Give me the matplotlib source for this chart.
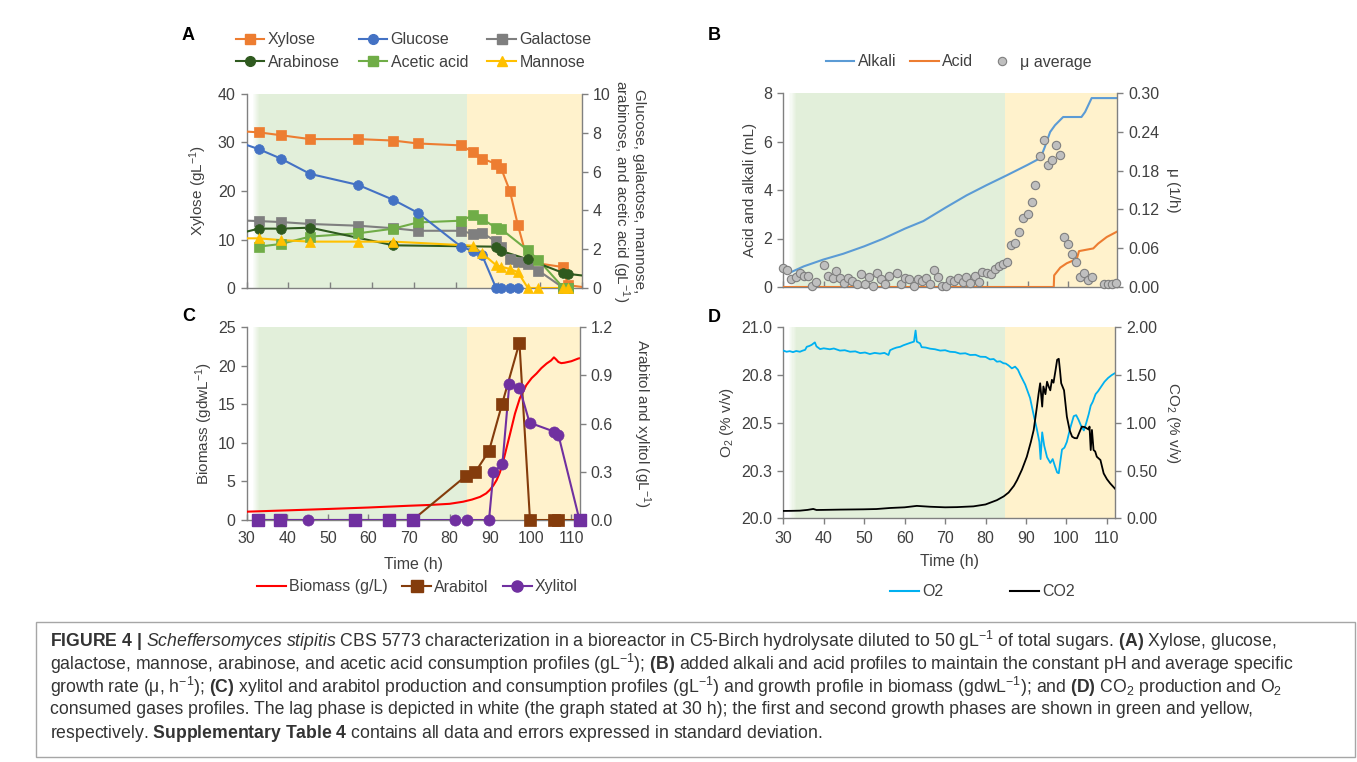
import numpy as np
import matplotlib
matplotlib.use("Agg")
import matplotlib.pyplot as plt
from matplotlib.lines import Line2D
from matplotlib.patches import Rectangle
from matplotlib.ticker import FormatStrFormatter

plt.rcParams["font.family"] = ["Liberation Sans", "DejaVu Sans"]
plt.rcParams["mathtext.fontset"] = "custom"
plt.rcParams["mathtext.rm"] = "Liberation Sans"
plt.rcParams["mathtext.it"] = "Liberation Sans:italic"
plt.rcParams["mathtext.bf"] = "Liberation Sans:bold"

W, H = 1357, 762
TXT = "#404040"
AXC = "#808080"
GREEN = "#e2efda"
YELLOW = "#fff2cc"

# ---------------- Panel A: sugars and acetic acid (gL-1) ----------------
XYL_T = [29.0, 32.9, 38.2, 45.2, 56.7, 65.1, 70.9, 81.3, 84.1, 86.2, 89.6, 90.8, 92.9, 94.8, 97.2, 105.7, 106.7, 112.0]
XYL = [32.3, 32.1, 31.5, 30.7, 30.7, 30.4, 29.8, 29.4, 28.0, 26.7, 25.6, 24.7, 20.0, 13.0, 5.4, 4.3, 0.6, 0.0]

GLU_T = [29.0, 32.9, 38.2, 45.2, 56.7, 65.1, 70.9, 81.3, 84.1, 86.2, 89.6, 90.8, 92.9, 94.8]
GLU = [7.45, 7.16, 6.67, 5.88, 5.31, 4.54, 3.88, 2.12, 1.91, 1.72, 0.0, 0.0, 0.0, 0.0]

GAL_T = [29.0, 32.9, 38.2, 45.2, 56.7, 65.1, 70.9, 81.3, 84.1, 86.2, 89.6, 90.8, 92.9, 94.8, 97.2, 99.7, 105.7, 106.7]
GAL = [3.48, 3.45, 3.40, 3.30, 3.21, 3.08, 2.95, 2.95, 2.78, 2.85, 2.40, 2.09, 1.50, 1.36, 1.23, 0.90, 0.0, 0.0]

ARA_T = [29.0, 32.9, 38.2, 45.2, 65.1, 89.6, 90.8, 97.2, 105.7, 106.7, 112.0]
ARA = [2.85, 3.06, 3.06, 3.11, 2.20, 2.13, 1.91, 1.48, 0.77, 0.73, 0.60]

ACE_T = [32.9, 38.2, 45.2, 56.7, 65.1, 70.9, 81.3, 84.1, 86.2, 89.6, 90.8, 97.2, 99.7, 105.7, 106.7]
ACE = [2.13, 2.27, 2.65, 2.82, 3.06, 3.38, 3.47, 3.75, 3.57, 3.10, 3.04, 1.94, 1.45, 0.0, 0.0]

MAN_T = [29.0, 32.9, 38.2, 45.2, 56.7, 65.1, 84.1, 86.2, 89.6, 90.8, 92.9, 94.8, 97.2, 99.7, 105.7, 106.7]
MAN = [2.56, 2.56, 2.47, 2.39, 2.39, 2.39, 2.18, 1.80, 1.18, 1.10, 0.98, 0.82, 0.0, 0.0, 0.0, 0.0]

# ---------------- Panel B: alkali / acid (mL) and mu (1/h) ----------------
ALK_T = [32.0, 35.0, 39.8, 44.7, 49.9, 54.5, 59.9, 64.4, 69.9, 75.0, 79.9, 84.8, 89.9, 92.6, 93.4, 94.2, 95.5, 96.7, 98.7, 103.2, 104.1, 105.7, 112.0]
ALK = [0.62, 0.85, 1.13, 1.37, 1.68, 1.99, 2.41, 2.72, 3.28, 3.78, 4.2, 4.6, 5.03, 5.27, 5.43, 5.77, 6.39, 6.67, 7.01, 7.01, 7.22, 7.79, 7.79]

ACID_T = [30.0, 96.4, 96.5, 98.0, 99.6, 101.0, 102.0, 102.6, 104.5, 106.1, 107.3, 109.4, 112.0]
ACID = [0.0, 0.0, 0.48, 0.80, 0.98, 1.08, 1.13, 1.48, 1.54, 1.59, 1.79, 2.06, 2.29]

MU_T = [30.0, 31.0, 32.0, 33.1, 34.1, 35.1, 36.0, 37.0, 38.0, 40.1, 40.9, 42.1, 42.9, 43.9, 45.0,
        46.0, 46.9, 48.0, 49.0, 50.0, 51.0, 52.0, 53.0, 54.0, 55.0, 56.0, 58.0, 59.0, 60.0, 60.9,
        62.0, 63.0, 64.0, 65.0, 66.0, 67.0, 68.0, 69.0, 69.9, 70.9, 72.0, 73.0, 74.0, 74.9, 75.9,
        77.0, 78.0, 78.9, 79.9, 80.9, 82.0, 82.9, 83.9, 85.0, 85.9, 87.0, 87.9, 88.9, 90.0, 91.0,
        91.9, 92.9, 93.9, 94.9, 95.9, 96.9, 97.9, 98.9, 99.9, 100.9, 101.9, 102.9, 103.9, 104.9,
        105.9, 108.8, 109.8, 110.8, 111.8]
MU = [0.030, 0.026, 0.013, 0.015, 0.021, 0.017, 0.017, 0.002, 0.008, 0.034, 0.017, 0.014, 0.025, 0.014, 0.006,
      0.014, 0.010, 0.005, 0.020, 0.004, 0.015, 0.002, 0.022, 0.012, 0.004, 0.017, 0.022, 0.004, 0.014, 0.013,
      0.001, 0.013, 0.009, 0.014, 0.004, 0.027, 0.015, 0.001, 0.001, 0.011, 0.009, 0.014, 0.008, 0.015, 0.006,
      0.017, 0.007, 0.023, 0.022, 0.020, 0.028, 0.032, 0.035, 0.038, 0.065, 0.068, 0.085, 0.107, 0.113, 0.132,
      0.158, 0.202, 0.228, 0.188, 0.197, 0.219, 0.204, 0.077, 0.066, 0.051, 0.039, 0.016, 0.021, 0.011,
      0.015, 0.004, 0.004, 0.005, 0.006]

# ---------------- Panel C: biomass (gdwL-1), arabitol and xylitol (gL-1) ----------------
BIO_T = [30.0, 40.0, 50.0, 60.0, 70.0, 75.0, 80.0, 83.3, 85.5, 87.5, 89.0, 89.9, 90.8, 91.6, 92.4, 93.2, 94.0,
         94.9, 96.1, 97.3, 98.9, 100.2, 101.4, 102.6, 103.9, 105.0, 105.7, 106.3, 106.8, 107.5, 108.3, 110.0, 111.7, 112.0]
BIO = [1.08, 1.25, 1.43, 1.62, 1.85, 1.95, 2.1, 2.37, 2.65, 3.0, 3.45, 3.9, 4.5, 5.2, 6.2, 7.6, 9.3,
       11.2, 13.8, 15.8, 17.5, 18.4, 19.0, 19.7, 20.3, 20.7, 21.1, 20.8, 20.5, 20.35, 20.4, 20.6, 20.95, 20.98]

ARB_T = [32.9, 38.2, 56.7, 65.1, 70.9, 84.1, 86.3, 89.7, 92.9, 97.2, 99.8, 105.6, 106.8, 112.0]
ARB = [0.0, 0.0, 0.0, 0.0, 0.0, 0.276, 0.297, 0.43, 0.72, 1.104, 0.0, 0.0, 0.0, 0.0]

XOL_T = [32.9, 38.2, 45.2, 56.7, 65.1, 70.9, 81.4, 84.2, 89.7, 90.8, 93.0, 94.7, 97.2, 99.7, 105.8, 106.8, 112.0]
XOL = [0.0, 0.0, 0.0, 0.0, 0.0, 0.0, 0.0, 0.0, 0.0, 0.297, 0.347, 0.845, 0.824, 0.606, 0.55, 0.53, 0.0]

# ---------------- Panel D: off-gas O2 and CO2 (% v/v) ----------------
O2_T = [30.0, 30.8, 31.6, 32.4, 33.2, 34.1, 34.8, 35.4, 35.8, 36.4, 37.0, 37.8, 38.2, 39.1, 40.0, 41.5,
        42.5, 44.0, 45.2, 46.5, 47.8, 49.0, 50.2, 51.4, 52.6, 53.9, 55.0, 56.0, 56.4, 57.2, 58.0, 58.9,
        59.7, 60.5, 61.3, 62.3, 62.7, 63.0, 63.8, 64.2, 65.2, 66.3, 67.5, 68.8, 70.0, 71.2, 72.5, 73.7,
        75.0, 76.2, 77.5, 78.7, 80.0, 81.1, 82.0, 82.8, 83.6, 84.4, 85.0, 85.7, 86.5, 87.3, 88.0, 88.6,
        89.8, 91.0, 92.0, 92.7, 93.3, 93.6, 94.0, 94.5, 95.2, 96.0, 96.6, 97.2, 97.7, 98.1, 98.5, 98.9,
        99.5, 100.1, 100.9, 101.8, 102.4, 103.0, 103.7, 104.3, 104.9, 105.5, 106.0, 106.5, 107.2, 107.8,
        108.6, 109.4, 110.3, 111.2, 112.0]
O2 = [20.878, 20.872, 20.875, 20.870, 20.876, 20.872, 20.878, 20.882, 20.898, 20.902, 20.908, 20.921, 20.900, 20.886, 20.890, 20.885,
      20.889, 20.878, 20.880, 20.872, 20.874, 20.865, 20.868, 20.860, 20.866, 20.862, 20.866, 20.855, 20.880, 20.888, 20.894, 20.898,
      20.906, 20.912, 20.918, 20.925, 20.983, 20.925, 20.916, 20.896, 20.894, 20.888, 20.885, 20.878, 20.880, 20.872, 20.870, 20.862,
      20.864, 20.855, 20.856, 20.846, 20.845, 20.832, 20.834, 20.820, 20.822, 20.812, 20.810, 20.800, 20.785, 20.794, 20.778, 20.750,
      20.700, 20.630, 20.530, 20.465, 20.400, 20.310, 20.450, 20.380, 20.320, 20.290, 20.310, 20.270, 20.240, 20.236, 20.300, 20.360,
      20.370, 20.400, 20.470, 20.535, 20.540, 20.515, 20.480, 20.460, 20.500, 20.545, 20.590, 20.610, 20.650, 20.665,
      20.690, 20.715, 20.735, 20.750, 20.760]

CO2_T = [30.0, 32.0, 34.1, 36.0, 37.4, 38.2, 40.0, 44.0, 49.8, 53.0, 56.4, 60.0, 63.0, 66.3, 70.0, 72.9, 77.0,
         80.0, 82.8, 84.5, 85.7, 87.0, 87.8, 89.0, 90.2, 91.2, 91.9, 92.7, 93.1, 93.5, 94.0, 94.3, 94.8, 95.2,
         95.6, 96.0, 96.4, 96.8, 97.3, 97.7, 98.1, 98.4, 98.7, 99.4, 100.1, 100.8, 101.4, 102.0, 102.6, 103.2,
         103.8, 104.5, 105.1, 105.5, 105.7, 106.0, 106.3, 106.7, 107.1, 107.5, 108.4, 109.2, 110.0, 110.8, 112.0]
CO2 = [0.077, 0.078, 0.080, 0.088, 0.098, 0.087, 0.088, 0.091, 0.094, 0.097, 0.108, 0.115, 0.130, 0.121, 0.115, 0.117, 0.125,
       0.145, 0.19, 0.23, 0.27, 0.34, 0.40, 0.51, 0.645, 0.80, 0.925, 1.17, 1.30, 1.414, 1.17, 1.38, 1.30, 1.43,
       1.38, 1.34, 1.45, 1.42, 1.55, 1.66, 1.67, 1.55, 1.414, 1.34, 1.064, 0.92, 0.855, 0.84, 0.838, 0.90,
       0.96, 0.955, 0.94, 0.93, 0.96, 0.715, 0.925, 0.715, 0.70, 0.645, 0.61, 0.47, 0.41, 0.366, 0.31]

CAPTION = [
    r"$\mathbf{FIGURE\ 4\ |}$ $\mathit{Scheffersomyces\ stipitis}$ CBS 5773 characterization in a bioreactor in C5-Birch "
    r"hydrolysate diluted to 50 gL$^{-1}$ of total sugars. $\mathbf{(A)}$ Xylose, glucose,",
    r"galactose, mannose, arabinose, and acetic acid consumption profiles (gL$^{-1}$); $\mathbf{(B)}$ added alkali and acid "
    r"profiles to maintain the constant pH and average specific",
    r"growth rate (μ, h$^{-1}$); $\mathbf{(C)}$ xylitol and arabitol production and consumption profiles (gL$^{-1}$) and "
    r"growth profile in biomass (gdwL$^{-1}$); and $\mathbf{(D)}$ CO$_2$ production and O$_2$",
    "consumed gases profiles. The lag phase is depicted in white (the graph stated at 30 h); the first and second "
    "growth phases are shown in green and yellow,",
    r"respectively. $\mathbf{Supplementary\ Table\ 4}$ contains all data and errors expressed in standard deviation.",
]


def px_box(l, t, r, b):
    return [l / W, 1 - b / H, (r - l) / W, (b - t) / H]


def shade(ax, xmax, green_end):
    edges = np.linspace(31.5, 33.3, 8)
    for i in range(len(edges) - 1):
        ax.axvspan(edges[i], edges[i + 1], color=GREEN, alpha=(i + 1) / (len(edges) - 1), lw=0, zorder=0)
    ax.axvspan(33.3, green_end, color=GREEN, lw=0, zorder=0)
    ax.axvspan(green_end, xmax, color=YELLOW, lw=0, zorder=0)


def style(ax, ax2, xdir):
    for s in ["top", "right"]:
        ax.spines[s].set_visible(False)
    for s in ["top", "left", "bottom"]:
        ax2.spines[s].set_visible(False)
    for sp in [ax.spines["left"], ax.spines["bottom"], ax2.spines["right"]]:
        sp.set_color(AXC)
        sp.set_linewidth(1.0)
    ax.tick_params(axis="y", direction="out", length=4, width=1, color=AXC,
                   labelsize=11.5, labelcolor=TXT, pad=4)
    ax.tick_params(axis="x", direction=xdir, length=4, width=1, color=AXC,
                   labelsize=11.5, labelcolor=TXT, pad=8 if xdir == "in" else 5)
    ax2.tick_params(axis="y", direction="out", length=4, width=1, color=AXC,
                    labelsize=11.5, labelcolor=TXT, pad=4)


def series(ax, t, v, color, marker, ms, lw=1.5):
    t = np.asarray(t)
    v = np.asarray(v)
    lo, hi = ax.get_xlim()
    ax.plot(t, v, "-", color=color, lw=lw, zorder=3)
    inside = (t >= lo) & (t <= hi)
    ax.plot(t[inside], v[inside], ls="none", marker=marker, ms=ms, color=color,
            mec=color, mew=0.5, clip_on=False, zorder=4)
    return Line2D([], [], color=color, lw=lw, marker=marker, ms=ms, mec=color)


fig = plt.figure(figsize=(W / 100, H / 100), dpi=100)

# ---------------- A ----------------
axA = fig.add_axes(px_box(246.5, 94, 581.5, 288))
axA2 = axA.twinx()
axA.set_xlim(30, 110)
axA2.set_xlim(30, 110)
axA.set_ylim(0, 40)
axA2.set_ylim(0, 10)
shade(axA, 110, 82.7)
hA = {}
hA["Xylose"] = series(axA, XYL_T, XYL, "#ed7d31", "s", 7)
hA["Galactose"] = series(axA2, GAL_T, GAL, "#7f7f7f", "s", 7)
hA["Acetic acid"] = series(axA2, ACE_T, ACE, "#70ad47", "s", 7)
hA["Arabinose"] = series(axA2, ARA_T, ARA, "#2f5a1f", "o", 7)
hA["Glucose"] = series(axA2, GLU_T, GLU, "#4472c4", "o", 7)
hA["Mannose"] = series(axA2, MAN_T, MAN, "#ffc000", "^", 7.5)
axA.set_xticks(range(30, 111, 10))
axA.set_xticklabels([])
axA.set_yticks(range(0, 41, 10))
axA2.set_yticks(range(0, 11, 2))
style(axA, axA2, "in")
axA.set_ylabel(r"Xylose (gL$^{\mathregular{-1}}$)", fontsize=11, color=TXT)
axA.yaxis.set_label_coords(-0.112, 0.5)
axA2.set_ylabel("Glucose, galactose, mannose,\narabinose, and acetic acid (gL$^{\\mathregular{-1}}$)",
                fontsize=11, color=TXT, rotation=270, va="center", linespacing=1.0)
axA2.yaxis.set_label_coords(1.139, 0.5)
orderA = ["Xylose", "Arabinose", "Glucose", "Acetic acid", "Galactose", "Mannose"]
fig.legend([hA[k] for k in orderA], orderA, loc="center", bbox_to_anchor=(413.5 / W, 1 - 51 / H),
           ncol=3, frameon=False, fontsize=11.5, labelcolor=TXT, handlelength=1.8,
           handletextpad=0.2, columnspacing=1.2, labelspacing=0.45, borderpad=0, borderaxespad=0)

# ---------------- B ----------------
axB = fig.add_axes(px_box(783.3, 93, 1117.3, 287))
axB2 = axB.twinx()
axB.set_xlim(30, 112)
axB.set_ylim(0, 8)
axB2.set_ylim(0, 0.30)
shade(axB, 112, 84.4)
axB.plot(ALK_T, ALK, color="#5b9bd5", lw=1.5, zorder=3)
axB.plot(ACID_T, ACID, color="#ed7d31", lw=1.5, zorder=3)
axB2.plot(MU_T, MU, ls="none", marker="o", ms=6, mfc="#bfbfbf", mec="#7f7f7f", mew=0.8,
          clip_on=False, zorder=4)
axB.set_xticks(range(30, 111, 10))
axB.set_xticklabels([])
axB.set_yticks(range(0, 9, 2))
axB2.set_yticks(np.arange(0, 0.301, 0.06))
axB2.yaxis.set_major_formatter(FormatStrFormatter("%.2f"))
style(axB, axB2, "in")
axB.set_ylabel("Acid and alkali (mL)", fontsize=11, color=TXT)
axB.yaxis.set_label_coords(-0.079, 0.5)
axB2.set_ylabel("μ (1/h)", fontsize=11, color=TXT, rotation=270, va="center")
axB2.yaxis.set_label_coords(1.168, 0.5)
hB = [Line2D([], [], color="#5b9bd5", lw=1.5), Line2D([], [], color="#ed7d31", lw=1.5),
      Line2D([], [], ls="none", marker="o", ms=6, mfc="#bfbfbf", mec="#7f7f7f", mew=0.8)]
fig.legend(hB, ["Alkali", "Acid", "μ average"], loc="center", bbox_to_anchor=(958.5 / W, 1 - 62 / H),
           ncol=3, frameon=False, fontsize=11.5, labelcolor=TXT, handlelength=1.8,
           handletextpad=0.2, columnspacing=0.9, borderpad=0, borderaxespad=0)

# ---------------- C ----------------
axC = fig.add_axes(px_box(246.7, 327.3, 579.5, 520))
axC2 = axC.twinx()
axC.set_xlim(30, 112)
axC.set_ylim(0, 25)
axC2.set_ylim(0, 1.2)
shade(axC, 112, 84.2)
axC.plot(BIO_T, BIO, color="#ff0000", lw=1.5, zorder=3)
hArb = series(axC2, ARB_T, ARB, "#843c0c", "s", 8)
hXol = series(axC2, XOL_T, XOL, "#7030a0", "o", 8)
arb_t = np.asarray(ARB_T)
arb_v = np.asarray(ARB)
xol_zero_t = np.asarray(XOL_T)[np.asarray(XOL) == 0]
both_zero = (arb_v == 0) & np.isin(arb_t, xol_zero_t)
axC2.plot(arb_t[both_zero], arb_v[both_zero], ls="none", marker="s", ms=8, color="#7030a0",
          clip_on=False, zorder=5)
axC.set_xticks(range(30, 111, 10))
axC.set_yticks(range(0, 26, 5))
axC2.set_yticks(np.arange(0, 1.21, 0.3))
axC2.yaxis.set_major_formatter(FormatStrFormatter("%.1f"))
style(axC, axC2, "in")
axC.set_ylabel(r"Biomass (gdwL$^{\mathregular{-1}}$)", fontsize=11, color=TXT)
axC.yaxis.set_label_coords(-0.095, 0.5)
axC2.set_ylabel(r"Arabitol and xylitol (gL$^{\mathregular{-1}}$)", fontsize=11, color=TXT,
                rotation=270, va="center")
axC2.yaxis.set_label_coords(1.188, 0.5)
axC.set_xlabel("Time (h)", fontsize=11.5, color=TXT)
axC.xaxis.set_label_coords(0.5, -0.192)
hC = [Line2D([], [], color="#ff0000", lw=1.5), hArb, hXol]
fig.legend(hC, ["Biomass (g/L)", "Arabitol", "Xylitol"], loc="center",
           bbox_to_anchor=(417.5 / W, 1 - 587 / H), ncol=3, frameon=False, fontsize=11.5,
           labelcolor=TXT, handlelength=1.8, handletextpad=0.2, columnspacing=0.9,
           borderpad=0, borderaxespad=0)

# ---------------- D ----------------
axD = fig.add_axes(px_box(783.3, 327.3, 1115, 518.3))
axD2 = axD.twinx()
axD.set_xlim(30, 112)
axD.set_ylim(20.0, 21.0)
axD2.set_ylim(0, 2.0)
shade(axD, 112, 84.8)
axD.plot(O2_T, O2, color="#00b0f0", lw=1.3, zorder=3)
axD2.plot(CO2_T, CO2, color="black", lw=1.3, zorder=3)
axD.set_xticks(range(30, 111, 10))
axD.set_yticks([20.0, 20.25, 20.5, 20.75, 21.0])
axD.set_yticklabels(["20.0", "20.3", "20.5", "20.8", "21.0"])
axD2.set_yticks(np.arange(0, 2.01, 0.5))
axD2.yaxis.set_major_formatter(FormatStrFormatter("%.2f"))
style(axD, axD2, "out")
axD.set_ylabel(r"O$_2$ (% v/v)", fontsize=11, color=TXT)
axD.yaxis.set_label_coords(-0.142, 0.5)
axD2.set_ylabel(r"CO$_2$ (% v/v)", fontsize=11, color=TXT, rotation=270, va="center")
axD2.yaxis.set_label_coords(1.175, 0.5)
axD.set_xlabel("Time (h)", fontsize=11.5, color=TXT)
axD.xaxis.set_label_coords(0.5, -0.187)
hD = [Line2D([], [], color="#00b0f0", lw=1.5), Line2D([], [], color="black", lw=1.5)]
fig.legend(hD, ["O2", "CO2"], loc="center", bbox_to_anchor=(982.5 / W, 1 - 592 / H),
           ncol=2, frameon=False, fontsize=11.5, labelcolor=TXT, handlelength=1.8,
           handletextpad=0.2, columnspacing=4.2, borderpad=0, borderaxespad=0)

# panel letters
for letter, x, y in [("A", 182, 35), ("B", 708, 35), ("C", 182, 316), ("D", 708, 317)]:
    fig.text(x / W, 1 - y / H, letter, fontsize=13, fontweight="bold", ha="left", va="center")

# caption box and text
fig.patches.append(Rectangle((36 / W, 1 - 757 / H), (1355 - 36) / W, (757 - 622) / H,
                             transform=fig.transFigure, fill=False, edgecolor="#a6a6a6", lw=1))
for i, line in enumerate(CAPTION):
    fig.text(50 / W, 1 - (641 + 23 * i) / H, line, fontsize=12.7, color="#333333",
             ha="left", va="center")

fig.savefig("out.png", dpi=100)
